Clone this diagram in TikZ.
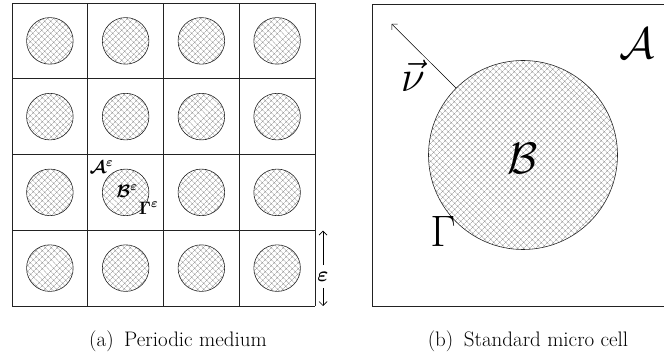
\RequirePackage{fix-cm}
\documentclass[tikz,border=0pt]{standalone}
\usepackage{amsmath,amssymb,bm}
\usepackage{tikz}
\usetikzlibrary{patterns.meta,arrows.meta}
\definecolor{hatchgray}{HTML}{8C8C8C}
\definecolor{framegray}{HTML}{222222}

\begin{document}
\begin{tikzpicture}[x=1pt,y=1pt,line width=0.9pt]
\useasboundingbox (0,0) rectangle (664,358);
\tikzset{inc/.style={circle,draw=black!85,line width=0.6pt,inner sep=0pt,
  pattern={Hatch[angle=45,distance=4pt,line width=0.4pt]},pattern color=hatchgray},
  biglab/.style={font=\fontsize{44}{48}\selectfont},
  smalllab/.style={font=\fontsize{18}{20}\selectfont},
  capt/.style={font=\fontsize{21}{24}\selectfont}}
% periodic medium
\draw[framegray,shift={(12,52)}] (0,0) grid[step=75.75] (303,303);
\foreach \i in {0,...,3}
  \foreach \j in {0,...,3}
    \node[inc,minimum size=46.6pt] (c\i\j) at (49.875+75.75*\i,89.875+75.75*\j) {};
\node[smalllab] (Aeps) at (101.5,191) {$\bm{\mathcal{A}}^{\bm\varepsilon}$};
\node[smalllab] (Beps) at (127,167) {$\bm{\mathcal{B}}^{\bm\varepsilon}$};
\node[smalllab] (Geps) at (148.5,150) {$\bm{\Gamma}^{\bm\varepsilon}$};
\node[font=\fontsize{21}{24}\selectfont] (eps) at (323,81.5) {$\bm\varepsilon$};
\coordinate (epstop) at (323,127.3);
\coordinate (epsbot) at (323,52);
\draw[-{Straight Barb[length=4pt]},line width=0.7pt] (eps.north)++(0,3) -- (epstop);
\draw[-{Straight Barb[length=4pt]},line width=0.7pt] (eps.south)++(0,-3) -- (epsbot);
% micro cell
\draw[framegray,line width=0.7pt] (664,354) -- (372,354) -- (372,52) -- (664,52);
\node[inc,minimum size=189pt] (cell) at (523,203) {};
\coordinate (nutip) at (391.7,334);
\draw[-{Straight Barb[length=4pt]},line width=0.5pt] (cell.135) -- (nutip);
\node[biglab] (A) at (637,315) {$\mathcal{A}$};
\node[biglab] (B) at (523,200) {$\mathcal{B}$};
\node[biglab] (G) at (443,127) {$\Gamma$};
\node[biglab] (nu) at (413,282) {$\vec{\nu}$};
% captions
\node[capt] (capa) at (178,17) {(a)\enspace Periodic medium};
\node[capt] (capb) at (528,17) {(b)\enspace Standard micro cell};
\end{tikzpicture}
\end{document}
